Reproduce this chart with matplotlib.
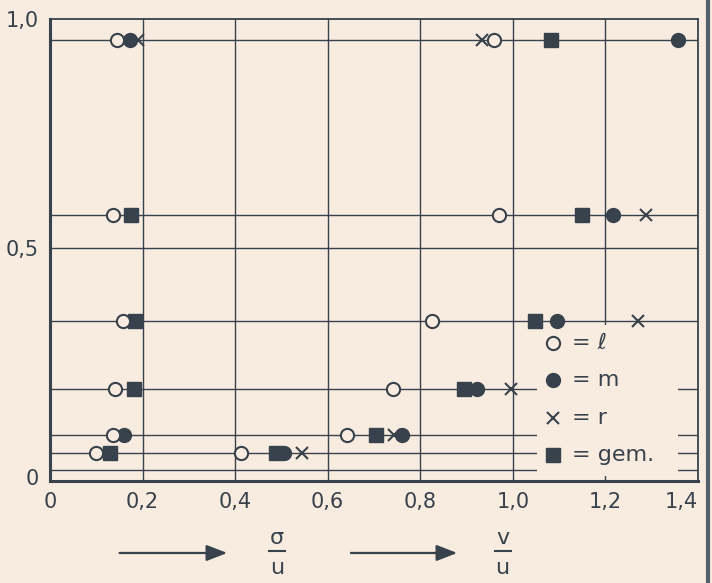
import numpy as np
import matplotlib
matplotlib.use("Agg")
import matplotlib.pyplot as plt
from matplotlib.patches import Rectangle
from matplotlib.lines import Line2D

BG = "#f8ebdf"
INK = "#37424c"

# measurement levels (y) and the x positions read for each symbol
rows = [0.954, 0.572, 0.341, 0.192, 0.092, 0.052]
extra_lines = [0.5, 0.015]
nan = np.nan

# sigma/u group (left)
l_sig = [0.144, 0.136, 0.158, 0.140, 0.136, 0.099]
m_sig = [0.172, nan, nan, nan, 0.160, nan]
r_sig = [0.190, nan, nan, nan, nan, nan]
g_sig = [nan, 0.174, 0.183, 0.181, nan, 0.129]

# v/u group (right)
l_v = [0.959, 0.970, 0.826, 0.742, 0.642, 0.413]
m_v = [1.356, 1.216, 1.095, 0.922, 0.761, 0.506]
r_v = [0.933, 1.287, 1.270, 0.996, 0.743, 0.545]
g_v = [1.082, 1.149, 1.049, 0.894, 0.704, 0.488]

xticks = [0, 0.2, 0.4, 0.6, 0.8, 1.0, 1.2, 1.4]
xticklabels = ["0", "0,2", "0,4", "0,6", "0,8", "1,0", "1,2", "1,4"]
yticks = [0, 0.5, 1.0]
yticklabels = ["0", "0,5", "1,0"]
legend_labels = ["= ℓ", "= m", "= r", "= gem."]

plt.rcParams["font.family"] = ["DejaVu Sans"]

fig = plt.figure(figsize=(7.12, 5.83), dpi=100, facecolor=BG)
ax = fig.add_axes([0.0702, 0.175, 0.910, 0.7926], facecolor=BG)
ax.set_xlim(0, 1.4)
ax.set_ylim(-0.009, 1.0)

# grid: vertical lines at the ticks, horizontal lines at each level
for x in xticks[1:-1]:
    ax.axvline(x, color=INK, lw=1.0, zorder=1)
for y in rows + extra_lines:
    ax.axhline(y, color=INK, lw=1.0, zorder=1)

# box that hides the grid behind the key
ax.add_patch(Rectangle((0.752, 0.011), 0.217, 0.327, transform=ax.transAxes,
                       facecolor=BG, edgecolor="none", zorder=2))

styles = [
    dict(marker="o", ms=9.5, mfc=BG, mec=INK, mew=1.5),
    dict(marker="o", ms=10, mfc=INK, mec=INK, mew=1),
    dict(marker="x", ms=9, mfc=INK, mec=INK, mew=1.5),
    dict(marker="s", ms=10, mfc=INK, mec=INK, mew=1),
]
series = [(l_sig, l_v), (m_sig, m_v), (r_sig, r_v), (g_sig, g_v)]
order = [3, 1, 2, 0]
for i in order:
    sig, v = series[i]
    ax.plot(sig, rows, ls="none", zorder=3, **styles[i])
    ax.plot(v, rows, ls="none", zorder=3, **styles[i])

# key
key_y = [0.299, 0.219, 0.136, 0.056]
for st, lab, ky in zip(styles, legend_labels, key_y):
    ax.plot([0.776], [ky], transform=ax.transAxes, ls="none", zorder=4, clip_on=False, **st)
    ax.text(0.806, ky, lab, transform=ax.transAxes, fontsize=16, color=INK,
            va="center", ha="left", zorder=4)

ax.set_xticks(xticks)
ax.set_xticklabels(xticklabels)
ax.set_yticks(yticks)
ax.set_yticklabels(yticklabels)
ax.tick_params(length=0, labelsize=15, labelcolor=INK, pad=8)
ax.get_xticklabels()[-1].set_horizontalalignment("right")

for side in ["left", "bottom"]:
    ax.spines[side].set_linewidth(2.2)
for side in ["top", "right"]:
    ax.spines[side].set_linewidth(1.3)
for sp in ax.spines.values():
    sp.set_color(INK)

# arrows and quantity labels under the axis
for x0, x1 in [(0.164, 0.323), (0.489, 0.646)]:
    fig.add_artist(matplotlib.patches.FancyArrowPatch(
        (x0, 0.0515), (x1, 0.0515), transform=fig.transFigure,
        arrowstyle="-|>,head_length=0.9,head_width=0.35", mutation_scale=14,
        color=INK, lw=1.6))

for xc, num in [(0.389, "σ"), (0.706, "v")]:
    fig.text(xc, 0.077, num, fontsize=16, color=INK, ha="center", va="center")
    fig.add_artist(Line2D([xc - 0.011, xc + 0.011], [0.0555, 0.0555],
                          transform=fig.transFigure, color=INK, lw=1.5))
    fig.text(xc, 0.026, "u", fontsize=16, color=INK, ha="center", va="center")

# dark scan edge on the right
fig.add_artist(Line2D([0.995, 0.995], [0.0, 1.0], transform=fig.transFigure,
                      color="#55606a", lw=3))

fig.savefig("out.png", dpi=100, facecolor=BG)
